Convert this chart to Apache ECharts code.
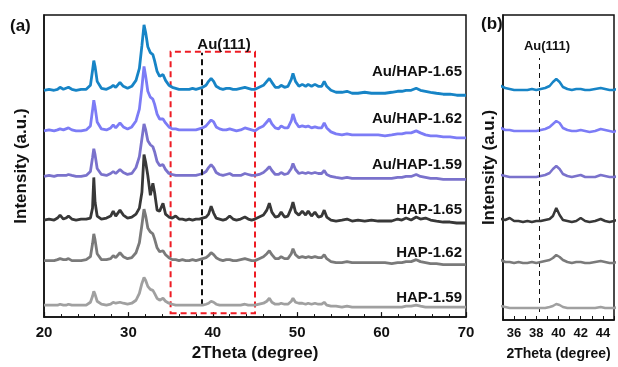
<!DOCTYPE html>
<html>
<head>
<meta charset="utf-8">
<script src="https://cdn.jsdelivr.net/npm/echarts@6/dist/echarts.min.js"></script>
<style>
  html, body { margin: 0; padding: 0; background: #fff; }
  #chart { width: 618px; height: 367px; }
</style>
</head>
<body>
<div id="chart"></div>
<script>
// 2theta sample positions (deg), shared by every pattern
const twoTheta = [
  20.0, 20.6, 21.2, 21.6, 21.9, 22.3, 22.6, 22.9, 23.3, 23.8,
  24.4, 25.0, 25.5, 25.75, 25.9, 26.05, 26.3, 26.8, 27.4, 27.9,
  28.2, 28.5, 28.7, 29.0, 29.4, 29.9, 30.4, 30.9, 31.3, 31.6,
  31.85, 32.05, 32.3, 32.6, 32.9, 33.1, 33.4, 33.7, 34.1, 34.4,
  34.8, 35.2, 35.6, 36.0, 36.4, 36.8, 37.2, 37.6, 38.0, 38.4,
  38.8, 39.2, 39.5, 39.8, 40.1, 40.4, 40.8, 41.2, 41.6, 42.0,
  42.4, 42.8, 43.3, 43.8, 44.2, 44.6, 45.0, 45.5, 46.0, 46.4,
  46.7, 47.0, 47.4, 47.8, 48.1, 48.5, 48.9, 49.3, 49.5, 49.8,
  50.2, 50.6, 51.0, 51.3, 51.7, 52.1, 52.5, 52.9, 53.2, 53.5,
  54.0, 54.6, 55.3, 55.9, 56.5, 57.2, 58.0, 58.8, 59.6, 60.4,
  61.2, 61.9, 62.4, 62.9, 63.5, 64.1, 64.6, 65.2, 65.8, 66.5,
  67.3, 68.1, 68.9, 69.5, 70.0
]

// intensity above each pattern's own baseline (a.u.)
const auHap165 = [
  0, 1, 0, 1, 3, 1, 2, 3, 1, 0,
  1, 1, 5, 20, 30, 24, 9, 2, 1, 3,
  5, 3, 5, 8, 4, 2, 4, 10, 22, 45,
  66, 58, 44, 38, 36, 30, 19, 14, 16, 10,
  5, 3, 2, 1, 1, 1, 1, 2, 1, 2,
  3, 5, 9, 12, 9, 4, 2, 1, 2, 2,
  1, 1, 2, 3, 2, 1, 1, 3, 5, 9,
  12, 8, 3, 3, 5, 3, 4, 11, 17, 9,
  4, 6, 4, 6, 4, 6, 4, 4, 9, 4,
  0, -2, -2, -1, -3, -3, -2, -3, -3, -3,
  -2, -1, -1, 0, 0, 2, 0, -1, -2, -3,
  -4, -4, -5, -5, -5
]
const auHap162 = [
  0, 1, 0, 1, 2, 1, 2, 3, 1, 0,
  0, 1, 5, 21, 31, 24, 9, 2, 1, 3,
  6, 3, 5, 8, 4, 2, 4, 10, 22, 44,
  65, 55, 40, 34, 32, 27, 17, 12, 12, 8,
  4, 2, 2, 1, 1, 1, 1, 1, 1, 2,
  3, 5, 8, 11, 9, 4, 2, 1, 1, 2,
  1, 0, 1, 3, 2, 1, 0, 3, 5, 9,
  12, 7, 3, 2, 5, 3, 3, 10, 17, 9,
  4, 5, 4, 5, 3, 4, 3, 3, 8, 3,
  -1, -3, -4, -3, -4, -4, -4, -4, -4, -5,
  -4, -3, -3, -2, -2, 0, -2, -4, -5, -5,
  -6, -6, -7, -7, -7
]
const auHap159 = [
  0, 1, 0, 1, 1, 1, 1, 2, 1, 0,
  0, 1, 5, 19, 28, 22, 8, 2, 1, 3,
  5, 3, 4, 7, 4, 2, 3, 9, 20, 38,
  53, 47, 36, 32, 30, 25, 15, 11, 12, 7,
  3, 2, 1, 1, 1, 1, 1, 1, 1, 2,
  3, 5, 9, 12, 9, 4, 2, 1, 2, 3,
  1, 1, 1, 3, 2, 1, 1, 2, 4, 7,
  10, 6, 2, 2, 4, 2, 3, 8, 13, 7,
  3, 4, 3, 4, 3, 4, 3, 3, 6, 2,
  0, -1, -2, -1, -2, -2, -2, -2, -2, -2,
  -2, -1, -1, 0, 0, 2, 0, -1, -2, -2,
  -3, -3, -3, -3, -3
]
const hap165 = [
  0, 1, 0, 2, 5, 1, 2, 4, 1, 0,
  1, 1, 2, 12, 43, 18, 4, 1, 2, 4,
  9, 4, 6, 10, 5, 2, 3, 6, 12, 28,
  66, 58, 45, 25, 37, 28, 10, 9, 17, 6,
  3, 2, 4, 1, 1, 0, 1, 0, 1, 1,
  2, 3, 6, 14, 7, 2, 1, 0, 1, 4,
  1, 0, 1, 3, 1, 0, 1, 3, 5, 10,
  17, 8, 3, 4, 8, 3, 4, 12, 18, 8,
  5, 9, 5, 9, 4, 8, 3, 4, 10, 3,
  0, -1, 0, 1, -1, 0, -1, 0, -1, -1,
  -1, 1, 0, 2, 0, 3, 1, 2, 0, -1,
  -2, -2, -3, -3, -3
]
const hap162 = [
  0, 0, 0, 1, 2, 1, 1, 2, 0, 0,
  0, 1, 4, 17, 27, 21, 7, 1, 1, 2,
  5, 3, 4, 8, 4, 2, 3, 8, 18, 36,
  52, 45, 33, 29, 27, 22, 13, 9, 10, 6,
  3, 1, 1, 0, 1, 0, 0, 1, 0, 1,
  2, 3, 5, 8, 6, 3, 1, 0, 1, 1,
  0, 0, 1, 2, 1, 0, 0, 2, 4, 7,
  10, 6, 2, 2, 4, 2, 2, 7, 12, 6,
  3, 4, 3, 4, 3, 4, 3, 3, 6, 2,
  -1, -2, -2, -1, -2, -2, -2, -2, -2, -2,
  -3, -2, -2, -1, -1, 1, -1, -2, -3, -3,
  -4, -4, -4, -4, -4
]
const hap159 = [
  0, 0, 0, 0, 1, 0, 0, 1, 0, 0,
  0, 0, 3, 9, 14, 11, 4, 1, 0, 1,
  3, 2, 2, 3, 2, 1, 2, 5, 12, 22,
  28, 25, 19, 16, 15, 12, 7, 5, 7, 4,
  2, 1, 0, 0, 0, 0, 0, 0, 0, 0,
  0, 1, 2, 4, 3, 1, 0, 0, 0, 0,
  0, 0, 0, 1, 0, 0, 0, 1, 2, 4,
  7, 3, 1, 1, 2, 1, 1, 4, 7, 3,
  2, 2, 1, 2, 1, 2, 1, 1, 3, 0,
  -1, -1, -2, -1, -2, -2, -2, -2, -2, -2,
  -2, -2, -2, -1, -1, 0, -1, -2, -2, -2,
  -2, -2, -2, -2, -2
]

const sampleNames = ['Au/HAP-1.65', 'Au/HAP-1.62', 'Au/HAP-1.59', 'HAP-1.65', 'HAP-1.62', 'HAP-1.59']
const profiles = [auHap165, auHap162, auHap159, hap165, hap162, hap159]
// vertical stacking offset of each pattern (a.u.)
const offsets = [229, 188, 142, 98, 57, 12]

const COLORS = ['#1784c6', '#7c7cf6', '#7a72cc', '#383838', '#7a7a7a', '#a0a0a0']
const FONT = '"Liberation Sans", Arial, sans-serif'
const INK = '#111'

const chart = echarts.init(document.getElementById('chart'), null, { renderer: 'canvas' })

const series = []
profiles.forEach((p, k) => {
  const data = twoTheta.map((t, i) => [t, offsets[k] + p[i]])
  series.push({
    type: 'line', name: sampleNames[k], xAxisIndex: 0, yAxisIndex: 0,
    data, symbol: 'none', lineStyle: { color: COLORS[k], width: 2.8 }, z: 2 + k,
  })
  series.push({
    type: 'line', name: sampleNames[k] + ' (b)', xAxisIndex: 1, yAxisIndex: 1,
    data, symbol: 'none', lineStyle: { color: COLORS[k], width: 2.5 }, z: 2 + k,
  })
})

// red zoom box and Au(111) guide in (a), guide in (b)
series.push({
  type: 'line', xAxisIndex: 0, yAxisIndex: 0, data: [], z: 20, silent: true,
  markArea: {
    silent: true,
    itemStyle: { color: 'rgba(0,0,0,0)', borderColor: '#ee1c24', borderWidth: 2, borderType: [6, 4] },
    label: { show: false },
    data: [[{ xAxis: 35, yAxis: 4 }, { xAxis: 45, yAxis: 268 }]],
  },
  markLine: {
    silent: true, symbol: 'none', label: { show: false },
    lineStyle: { color: INK, width: 2, type: [6, 4] },
    data: [[{ coord: [38.65, 12] }, { coord: [38.65, 267] }]],
  },
})
series.push({
  type: 'line', xAxisIndex: 1, yAxisIndex: 1, data: [], z: 20, silent: true,
  markLine: {
    silent: true, symbol: 'none', label: { show: false },
    lineStyle: { color: INK, width: 1, type: [5, 4] },
    data: [[{ coord: [38.3, 8] }, { coord: [38.3, 262] }]],
  },
})

const axisLine = { show: true, onZero: false, lineStyle: { color: INK, width: 1.5 } }
const nameStyle = (size) => ({ fontSize: size, fontWeight: 'bold', color: INK, fontFamily: FONT })
const textEl = (x, y, text, size, align) => ({
  type: 'text', x, y, z: 30,
  style: { text, font: `bold ${size}px ${FONT}`, fill: INK, align, verticalAlign: 'middle' },
})

const option = {
  animation: false,
  grid: [
    { left: 44, right: 152, top: 15, bottom: 47, show: true, borderColor: INK, borderWidth: 1.5 },
    { left: 503, right: 4, top: 15, bottom: 47, show: true, borderColor: INK, borderWidth: 1.5 },
  ],
  xAxis: [
    {
      gridIndex: 0, type: 'value', min: 20, max: 70, interval: 10,
      axisLine,
      axisTick: { inside: true, length: 5, lineStyle: { color: INK, width: 1.2 } },
      minorTick: { show: true, splitNumber: 5, length: 3, lineStyle: { color: INK, width: 1 } },
      axisLabel: { fontSize: 15, fontWeight: 'bold', color: INK, fontFamily: FONT, margin: 8 },
      splitLine: { show: false },
      name: '2Theta (degree)', nameLocation: 'middle', nameGap: 26, nameTextStyle: nameStyle(17),
    },
    {
      gridIndex: 1, type: 'value', min: 35, max: 45, interval: 1,
      axisLine,
      axisTick: { inside: true, length: 4, lineStyle: { color: INK, width: 1 } },
      axisLabel: {
        fontSize: 13, fontWeight: 'bold', color: INK, fontFamily: FONT, margin: 7,
        formatter: (v) => (v % 2 === 0 ? String(v) : ''),
      },
      splitLine: { show: false },
      name: '2Theta (degree)', nameLocation: 'middle', nameGap: 27, nameTextStyle: nameStyle(14),
    },
  ],
  yAxis: [
    {
      gridIndex: 0, type: 'value', min: 0, max: 305,
      axisLine, axisTick: { show: false }, axisLabel: { show: false }, splitLine: { show: false },
      name: 'Intensity (a.u.)', nameLocation: 'middle', nameGap: 14, nameTextStyle: nameStyle(17),
    },
    {
      gridIndex: 1, type: 'value', min: 0, max: 305,
      axisLine, axisTick: { show: false }, axisLabel: { show: false }, splitLine: { show: false },
      name: 'Intensity (a.u.)', nameLocation: 'middle', nameGap: 5, nameTextStyle: nameStyle(17),
    },
  ],
  graphic: [
    { type: 'text', left: 10, top: 18, style: { text: '(a)', font: `bold 17px ${FONT}`, fill: INK } },
    { type: 'text', left: 481, top: 16, style: { text: '(b)', font: `bold 17px ${FONT}`, fill: INK } },
    textEl(224, 45, 'Au(111)', 15, 'center'),
    textEl(547, 46, 'Au(111)', 13, 'center'),
    ...[72, 118.5, 165, 210, 253, 298].map((y, k) => textEl(462, y, sampleNames[k], 15, 'right')),
  ],
  series,
}

chart.setOption(option)
</script>
</body>
</html>
